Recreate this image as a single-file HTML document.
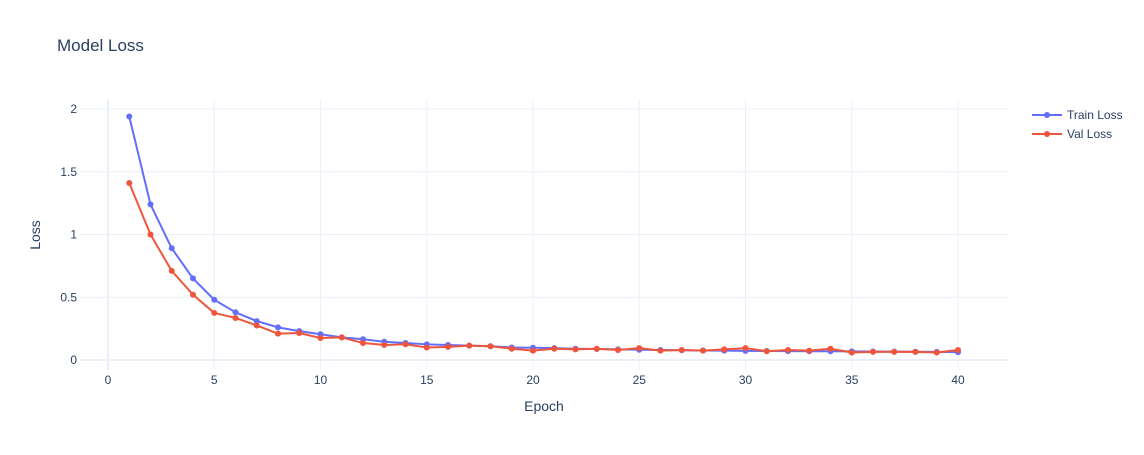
<!DOCTYPE html>
<html><head><meta charset="utf-8"><style>
body{margin:0;background:#fff;font-family:"Liberation Sans",Arial,sans-serif;}
svg text{font-family:"Liberation Sans",Arial,sans-serif;fill:#2a3f5f;}
</style></head><body>
<svg id="chart" width="1144" height="450" xmlns="http://www.w3.org/2000/svg">
<text x="57" y="51" font-size="17">Model Loss</text>
<g id="grid"></g><g id="series"></g>
<text x="544" y="411" font-size="14" text-anchor="middle">Epoch</text>
<text transform="translate(40,235) rotate(-90)" font-size="14" text-anchor="middle">Loss</text>
<g>
<g><line x1="1032" y1="115" x2="1062" y2="115" stroke="#636efa" stroke-width="2"/><circle cx="1047" cy="115" r="3" fill="#636efa"/><text x="1067" y="119" font-size="12">Train Loss</text></g>
<g><line x1="1032" y1="134" x2="1062" y2="134" stroke="#ef553b" stroke-width="2"/><circle cx="1047" cy="134" r="3" fill="#ef553b"/><text x="1067" y="138" font-size="12">Val Loss</text></g>
</g>
</svg>
<script>
const epochs=[];for(let i=1;i<=40;i++)epochs.push(i);
const trainLoss=[1.94,1.24,0.89,0.65,0.48,0.38,0.31,0.26,0.23,0.205,0.18,0.165,0.145,0.135,0.125,0.12,0.115,0.11,0.10,0.098,0.095,0.09,0.088,0.085,0.082,0.08,0.078,0.076,0.075,0.073,0.072,0.071,0.07,0.07,0.069,0.068,0.067,0.066,0.065,0.063];
const valLoss=[1.41,1.0,0.71,0.52,0.375,0.335,0.275,0.21,0.215,0.175,0.18,0.135,0.12,0.125,0.1,0.105,0.115,0.11,0.09,0.075,0.09,0.085,0.09,0.08,0.095,0.075,0.08,0.075,0.085,0.095,0.07,0.08,0.075,0.09,0.06,0.065,0.065,0.065,0.06,0.08];
const xTicks=[0,5,10,15,20,25,30,35,40];
const yTicks=[0,0.5,1,1.5,2];
const yTickLabels=["0","0.5","1","1.5","2"];
const NS="http://www.w3.org/2000/svg";
const L=80,R=1008,T=100,B=370;
const x=v=>108+v*21.25;
const y=v=>360-v*125.5;
function mk(tag,attrs,parent){const e=document.createElementNS(NS,tag);for(const k in attrs)e.setAttribute(k,attrs[k]);parent.appendChild(e);return e;}
const grid=document.getElementById('grid'),ser=document.getElementById('series');
xTicks.forEach(t=>{
  const ln=mk('line',{x1:x(t),x2:x(t),y1:T,y2:B,stroke:t===0?'#ebf0f8':'#ebf0f8','stroke-width':t===0?2:1},grid);
  
  
  const tx=mk('text',{x:x(t),y:384,'font-size':12,'text-anchor':'middle'},grid);tx.textContent=t;
  
  
});
yTicks.forEach((t,i)=>{
  const ln=mk('line',{x1:L,x2:R,y1:y(t),y2:y(t),stroke:'#ebf0f8','stroke-width':t===0?2:1},grid);
  
  
  const tx=mk('text',{x:77,y:y(t)+4,'font-size':12,'text-anchor':'end'},grid);tx.textContent=yTickLabels[i];
  
  
});
function draw(vals,color,name){
  const g=mk('g',{},ser);
  
  
  const pl=mk('polyline',{points:vals.map((v,i)=>x(epochs[i])+','+y(v)).join(' '),fill:'none',stroke:color,'stroke-width':2,'stroke-linejoin':'round'},g);
  
  
  vals.forEach((v,i)=>{const c=mk('circle',{cx:x(epochs[i]),cy:y(v),r:3,fill:color},g);
    
    });
}
draw(trainLoss,'#636efa','train-loss');
draw(valLoss,'#ef553b','val-loss');
</script>
</body></html>
